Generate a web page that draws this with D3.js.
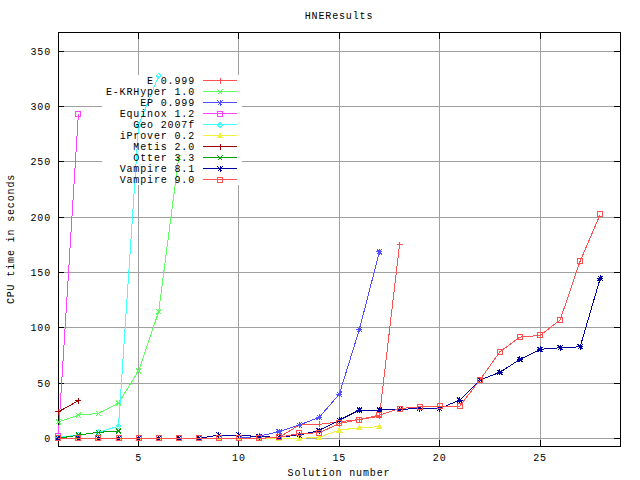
<!DOCTYPE html>
<html><head><meta charset="utf-8">
<script src="https://cdn.jsdelivr.net/npm/d3@7/dist/d3.min.js"></script>
<style>body{margin:0;background:#fff}svg{display:block}text{font-family:"Liberation Mono","DejaVu Sans Mono",monospace;font-size:10px;letter-spacing:0.85px;fill:#000}</style>
</head><body><svg id="c" width="640" height="480"></svg>
<script>
const title = "HNEResults";
const xLabel = "Solution number";
const yLabel = "CPU time in seconds";
const xTicks = [5, 10, 15, 20, 25];
const yTicks = [0, 50, 100, 150, 200, 250, 300, 350];

const seriesNames = ["E 0.999","E-KRHyper 1.0","EP 0.999","Equinox 1.2","Geo 2007f","iProver 0.2","Metis 2.0","Otter 3.3","Vampire 8.1","Vampire 9.0"];
const eValues = [0,0,0,0,0,0,0,0,0,0,0,1,12,12.7,15,17,20,175];
const ekrValues = [15,21,22.5,32,61,114.5,254];
const epValues = [0,0,0,0,0,0,0,0,0,0,2,6,12,19,40,98.5,168.7];
const equinoxValues = [2,293];
const geoValues = [1,3,5.5,11,283,328];
const iproverValues = [0,0,0,0,0,0,0,0,0,0,0,0,0,1,7.5,9.6,10.5];
const metisValues = [24,34];
const otterValues = [0,3,5.5,6.5];
const vamp81Values = [0,0,0,0,0,0,0,0,3,3,1.5,1,3,7,16.5,25.6,25.6,26.2,27,27,34.6,52.7,59.7,71.4,80.5,81.9,82.8,144.7];
const vamp90Values = [0,0,0,0,0,0,0,0,0,0,0,1,4.5,5,13.5,17,21,27,28.5,29,29.2,52.7,78.3,91.6,93.1,107,160.3,202.5];

const seriesValues = [eValues,ekrValues,epValues,equinoxValues,geoValues,iproverValues,metisValues,otterValues,vamp81Values,vamp90Values];
const colors = ["#ff5050","#5cff5c","#5050ff","#ff40ff","#40ffff","#f0f040","#a00000","#00a000","#0000a0","#ff5050"];
const markers = ["plus","cross","star","square","diamond","triangle","plus","cross","star","square"];

const L=58.3, R=620.3, T=32.5, B=446;
const x = d3.scaleLinear().domain([1,29]).range([L,R]);
const y = d3.scaleLinear().domain([-6.9,367]).range([B,T]);
const svg = d3.select("#c");

// grid
const g = svg.append("g").attr("shape-rendering","crispEdges");
g.selectAll("line.gx").data(xTicks).join("line").attr("x1",d=>x(d)).attr("x2",d=>x(d)).attr("y1",T).attr("y2",B).attr("stroke","#a0a0a0").attr("stroke-width",1);
g.selectAll("line.gy").data(yTicks).join("line").attr("x1",L).attr("x2",R).attr("y1",d=>y(d)).attr("y2",d=>y(d)).attr("stroke","#a0a0a0").attr("stroke-width",1);
// key area clears grid
svg.append("rect").attr("x",102).attr("y",75).attr("width",140).attr("height",110).attr("fill","#fff");

// border & ticks
svg.append("rect").attr("x",L).attr("y",T).attr("width",R-L).attr("height",B-T).attr("fill","none").attr("stroke","#000").attr("stroke-width",1).attr("shape-rendering","crispEdges");
const tk = svg.append("g").attr("stroke","#000").attr("shape-rendering","crispEdges");
xTicks.forEach(d=>{tk.append("line").attr("x1",x(d)).attr("x2",x(d)).attr("y1",B).attr("y2",B-6);tk.append("line").attr("x1",x(d)).attr("x2",x(d)).attr("y1",T).attr("y2",T+6);});
yTicks.forEach(d=>{tk.append("line").attr("x1",L).attr("x2",L+6).attr("y1",y(d)).attr("y2",y(d));tk.append("line").attr("x1",R).attr("x2",R-6).attr("y1",y(d)).attr("y2",y(d));});
svg.selectAll("text.xt").data(xTicks).join("text").attr("x",d=>x(d)).attr("y",461).attr("text-anchor","middle").text(d=>d);
svg.selectAll("text.yt").data(yTicks).join("text").attr("x",51).attr("y",d=>y(d)+3.5).attr("text-anchor","end").text(d=>d);
svg.append("text").attr("x",339).attr("y",19).attr("text-anchor","middle").text(title);
svg.append("text").attr("x",339).attr("y",476).attr("text-anchor","middle").text(xLabel);
svg.append("text").attr("transform","translate(14,239) rotate(-90)").attr("text-anchor","middle").text(yLabel);

function marker(sel, type, cx, cy, col){
  const s=3;
  const p = sel.append("g").attr("stroke",col).attr("fill","none").attr("stroke-width",1).attr("shape-rendering","crispEdges");
  if(type==="plus"||type==="star"){p.append("path").attr("d",`M${cx-s},${cy}H${cx+s}M${cx},${cy-s}V${cy+s}`);}
  if(type==="cross"||type==="star"){p.append("path").attr("d",`M${cx-2.5},${cy-2.5}L${cx+2.5},${cy+2.5}M${cx-2.5},${cy+2.5}L${cx+2.5},${cy-2.5}`);}
  if(type==="square"){p.append("rect").attr("x",cx-2.5).attr("y",cy-2.5).attr("width",5).attr("height",5);}
  if(type==="diamond"){p.append("path").attr("d",`M${cx},${cy-2.5}L${cx+2.5},${cy}L${cx},${cy+2.5}L${cx-2.5},${cy}Z`);}
  if(type==="triangle"){p.append("path").attr("d",`M${cx},${cy-2.5}L${cx+2.5},${cy+2}L${cx-2.5},${cy+2}Z`).attr("fill",col);}
}

const line = d3.line().x((d,i)=>x(i+1)).y(d=>y(d));
const plots = svg.append("g");
seriesValues.forEach((vals,k)=>{
  const sg = plots.append("g");
  sg.append("path").datum(vals).attr("d",line).attr("fill","none").attr("stroke",colors[k]).attr("stroke-width",1).attr("shape-rendering","crispEdges");
  vals.forEach((v,i)=>marker(sg, markers[k], x(i+1), y(v), colors[k]));
});

// legend
const lg = svg.append("g");
seriesNames.forEach((n,k)=>{
  const yy = 80.7 + k*11.03;
  lg.append("text").attr("x",195).attr("y",yy+3.5).attr("text-anchor","end").text(n);
  lg.append("line").attr("x1",203).attr("x2",237).attr("y1",yy).attr("y2",yy).attr("stroke",colors[k]).attr("shape-rendering","crispEdges");
  marker(lg, markers[k], 220, yy, colors[k]);
});
</script></body></html>
